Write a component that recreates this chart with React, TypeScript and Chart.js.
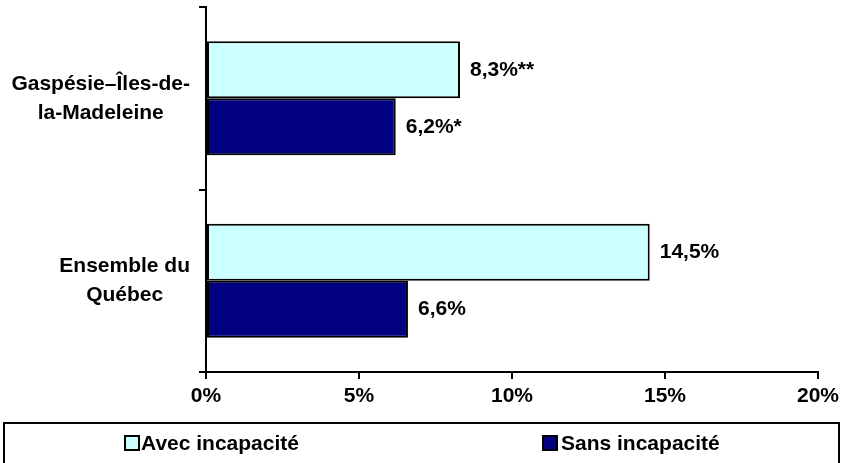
import React, { useEffect, useRef } from "react";
import { Chart, registerables } from "chart.js";

Chart.register(...registerables);

const categories: string[][] = [
  ["Gaspésie–Îles-de-", "la-Madeleine"],
  ["Ensemble du", "Québec"],
];
const seriesNames = ["Avec incapacité", "Sans incapacité"];
const avecValues = [8.3, 14.5];
const sansValues = [6.2, 6.6];
const avecNotes = ["**", ""];
const sansNotes = ["*", ""];
const xTicks = [0, 5, 10, 15, 20];

const FONT = "'Liberation Sans', Arial, sans-serif";
const FS = 21;
const fmt = (v: number) => v.toFixed(1).replace(".", ",") + "%";

export default function App() {
  const ref = useRef<HTMLCanvasElement | null>(null);
  useEffect(() => {
    if (!ref.current) return;
    const notes = [avecNotes, sansNotes];
    const labelPlugin = {
      id: "customLabels",
      afterDatasetsDraw(chart: any) {
        const ctx = chart.ctx;
        ctx.save();
        ctx.font = `bold ${FS}px ${FONT}`;
        ctx.fillStyle = "#000";
        ctx.textBaseline = "middle";
        ctx.textAlign = "left";
        chart.data.datasets.forEach((ds: any, di: number) => {
          const meta = chart.getDatasetMeta(di);
          meta.data.forEach((el: any, i: number) => {
            ctx.fillText(fmt(ds.data[i]) + notes[di][i], el.x + 10, el.y);
          });
        });
        // category labels
        const ys = chart.scales.y;
        ctx.textAlign = "center";
        categories.forEach((lines, i) => {
          const cy = ys.getPixelForValue(i);
          const w = Math.max(...lines.map((l) => ctx.measureText(l).width));
          const cx = ys.right - 16 - w / 2;
          const lh = 29;
          const y0 = cy - ((lines.length - 1) * lh) / 2;
          lines.forEach((l, k) => ctx.fillText(l, cx, y0 + k * lh));
        });
        ctx.restore();
      },
    };
    const chart = new Chart(ref.current, {
      type: "bar",
      data: {
        labels: categories.map((c) => c.join(" ")),
        datasets: [
          {
            label: seriesNames[0],
            data: avecValues,
            backgroundColor: "#CCFFFF",
            borderColor: "#000",
            borderWidth: 2,
            borderSkipped: false,
            categoryPercentage: 0.625,
            barPercentage: 1,
          },
          {
            label: seriesNames[1],
            data: sansValues,
            backgroundColor: "#000080",
            borderColor: "#000",
            borderWidth: 2,
            borderSkipped: false,
            categoryPercentage: 0.625,
            barPercentage: 1,
          },
        ],
      },
      options: {
        indexAxis: "y",
        responsive: false,
        animation: false,
        layout: { padding: { top: 7, right: 33, bottom: 61, left: 0 } },
        plugins: { legend: { display: false }, tooltip: { enabled: false } },
        scales: {
          x: {
            min: 0,
            max: 20,
            afterBuildTicks: (s: any) => {
              s.ticks = xTicks.map((v) => ({ value: v }));
            },
            afterFit: (s: any) => {
              s.height = 30;
            },
            ticks: {
              callback: (v: any) => v + "%",
              color: "#000",
              font: { family: FONT, size: FS, weight: "bold" },
              padding: 5,
              maxRotation: 0,
            },
            grid: {
              display: true,
              drawOnChartArea: false,
              drawTicks: true,
              tickLength: 7,
              color: "#000",
              lineWidth: 2,
            },
            border: { display: true, color: "#000", width: 2 },
          },
          y: {
            ticks: { display: false },
            afterFit: (s: any) => {
              s.width = 206;
            },
            grid: {
              display: true,
              drawOnChartArea: false,
              drawTicks: true,
              tickLength: 7,
              color: "#000",
              lineWidth: 2,
              offset: true,
            },
            border: { display: true, color: "#000", width: 2 },
          },
        },
      },
      plugins: [labelPlugin],
    });
    return () => chart.destroy();
  }, []);

  const legendText: React.CSSProperties = {
    position: "absolute",
    top: 7,
    font: `bold ${FS}px ${FONT}`,
    color: "#000",
    lineHeight: "24px",
    whiteSpace: "nowrap",
  };
  const sq = (bg: string, left: number): React.CSSProperties => ({
    position: "absolute",
    left,
    top: 11,
    width: 12,
    height: 12,
    background: bg,
    border: "2px solid #000",
  });

  return (
    <div style={{ position: "fixed", left: 0, top: 0, width: 851, height: 463, overflow: "hidden", background: "#fff" }}>
      <canvas ref={ref} width={851} height={463} style={{ display: "block", width: 851, height: 463 }} />
      <div
        style={{
          position: "absolute",
          left: 3,
          top: 422,
          width: 837,
          height: 60,
          border: "2px solid #000",
          boxSizing: "border-box",
        }}
      >
        <div style={sq("#CCFFFF", 119)} />
        <div style={{ ...legendText, left: 136 }}>{seriesNames[0]}</div>
        <div style={sq("#000080", 537)} />
        <div style={{ ...legendText, left: 556 }}>{seriesNames[1]}</div>
      </div>
    </div>
  );
}
